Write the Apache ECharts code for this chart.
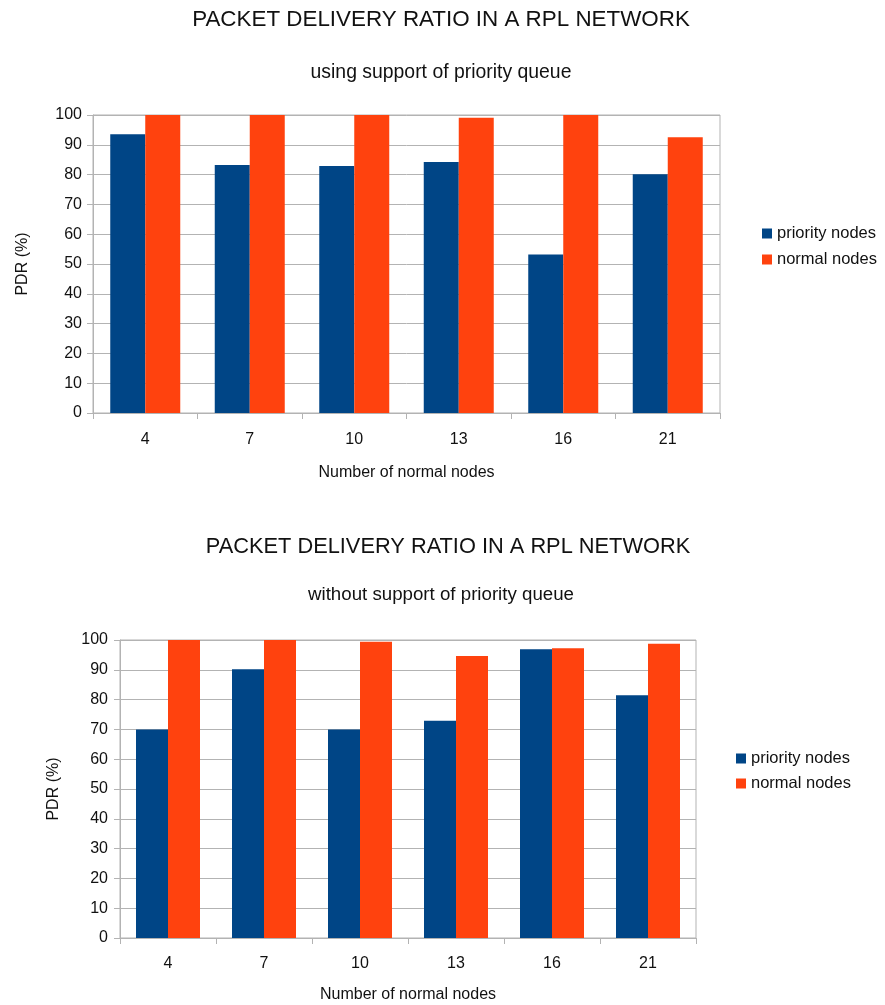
<!DOCTYPE html>
<html>
<head>
<meta charset="utf-8">
<script src="https://cdn.jsdelivr.net/npm/echarts@6/dist/echarts.min.js"></script>
<style>
  html, body { margin: 0; padding: 0; background: #fff; }
  #chart { width: 885px; height: 1005px; }
</style>
</head>
<body>
<div id="chart"></div>
<script>
// Number of normal nodes on the x axis
const categories = ['4', '7', '10', '13', '16', '21'];
const yTicks = [0, 10, 20, 30, 40, 50, 60, 70, 80, 90, 100];

// PDR (%) with priority queue support
const withQueuePriority = [93.5, 83.2, 82.9, 84.2, 53.2, 80.1];
const withQueueNormal   = [100, 100, 100, 99.1, 100, 92.5];

// PDR (%) without priority queue support
const withoutQueuePriority = [70, 90.2, 70, 72.9, 96.9, 81.5];
const withoutQueueNormal   = [100, 100, 99.4, 94.6, 97.2, 98.7];

const seriesNames = ['priority nodes', 'normal nodes'];
const colors = ['#004586', '#ff420e'];

const FONT = '"Liberation Sans", Arial, sans-serif';
const TEXT = '#111';
const GRID = '#b3b3b3';

function xAxisFor(gridIndex, margin, nameGap) {
  return {
    type: 'category', gridIndex, data: categories,
    name: 'Number of normal nodes', nameLocation: 'middle', nameGap,
    nameTextStyle: { fontFamily: FONT, fontSize: 16, color: TEXT },
    axisLine: { show: true, lineStyle: { color: GRID } },
    axisTick: { show: true, length: 6, lineStyle: { color: GRID } },
    axisLabel: { fontFamily: FONT, fontSize: 16, color: TEXT, margin },
    splitLine: { show: false }
  };
}

function yAxisFor(gridIndex, margin, nameGap) {
  return {
    type: 'value', gridIndex, min: yTicks[0], max: yTicks[yTicks.length - 1],
    interval: yTicks[1] - yTicks[0],
    name: 'PDR (%)', nameLocation: 'middle', nameGap, nameRotate: 90,
    nameTextStyle: { fontFamily: FONT, fontSize: 16, color: TEXT },
    axisLine: { show: true, lineStyle: { color: GRID } },
    axisTick: { show: true, length: 6, lineStyle: { color: GRID } },
    axisLabel: { fontFamily: FONT, fontSize: 16, color: TEXT, margin },
    splitLine: { show: true, lineStyle: { color: GRID, width: 1 } }
  };
}

function barSeries(name, data, idx, color, width) {
  return {
    name, type: 'bar', data, xAxisIndex: idx, yAxisIndex: idx,
    barWidth: width, barGap: '0%',
    itemStyle: { color },
    emphasis: { disabled: true },
    animation: false
  };
}

const chart = echarts.init(document.getElementById('chart'), null, { renderer: 'canvas' });

chart.setOption({
  backgroundColor: '#ffffff',
  animation: false,
  title: [
    { text: 'PACKET DELIVERY RATIO IN A RPL NETWORK', left: 436, top: 4, textAlign: 'center',
      textStyle: { fontFamily: FONT, fontSize: 22.4, fontWeight: 'normal', color: TEXT } },
    { text: 'using support of priority queue', left: 436, top: 58, textAlign: 'center',
      textStyle: { fontFamily: FONT, fontSize: 19.4, fontWeight: 'normal', color: TEXT } },
    { text: 'PACKET DELIVERY RATIO IN A RPL NETWORK', left: 443, top: 531, textAlign: 'center',
      textStyle: { fontFamily: FONT, fontSize: 21.8, fontWeight: 'normal', color: TEXT } },
    { text: 'without support of priority queue', left: 436, top: 580, textAlign: 'center',
      textStyle: { fontFamily: FONT, fontSize: 18.7, fontWeight: 'normal', color: TEXT } }
  ],
  legend: [
    { data: seriesNames, orient: 'vertical', left: 757, top: 220, icon: 'rect',
      itemWidth: 10, itemHeight: 10, itemGap: 9,
      textStyle: { fontFamily: FONT, fontSize: 16.5, color: TEXT, lineHeight: 16 } },
    { data: seriesNames, orient: 'vertical', left: 731, top: 745, icon: 'rect',
      itemWidth: 10, itemHeight: 10, itemGap: 8,
      textStyle: { fontFamily: FONT, fontSize: 16.5, color: TEXT, lineHeight: 16 } }
  ],
  grid: [
    { left: 93, top: 115, width: 627, height: 298, show: true, borderColor: GRID, borderWidth: 1, backgroundColor: 'transparent' },
    { left: 120, top: 640, width: 576, height: 298, show: true, borderColor: GRID, borderWidth: 1, backgroundColor: 'transparent' }
  ],
  xAxis: [xAxisFor(0, 19, 52), xAxisFor(1, 18, 49)],
  yAxis: [yAxisFor(0, 11, 62), yAxisFor(1, 12, 58)],
  series: [
    barSeries(seriesNames[0], withQueuePriority, 0, colors[0], 35),
    barSeries(seriesNames[1], withQueueNormal, 0, colors[1], 35),
    barSeries(seriesNames[0], withoutQueuePriority, 1, colors[0], 32),
    barSeries(seriesNames[1], withoutQueueNormal, 1, colors[1], 32)
  ]
});
</script>
</body>
</html>
